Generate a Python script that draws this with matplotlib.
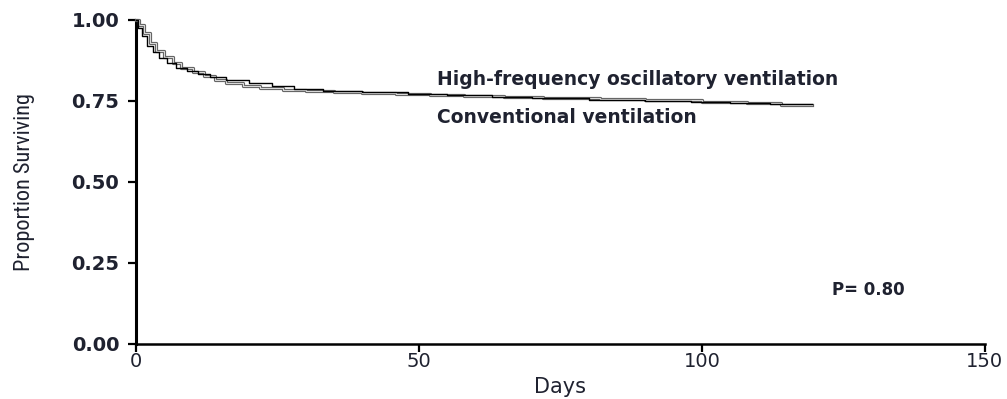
import matplotlib
matplotlib.use("Agg")
import matplotlib.pyplot as plt
import matplotlib.patheffects as pe
from matplotlib import font_manager

# Kaplan-Meier step data
hfov_days = [0, 0.5, 1.5, 2.5, 3.5, 5, 6.5, 8, 10, 12, 14, 16, 19, 22, 26, 30,
             35, 40, 46, 52, 58, 65, 72, 82, 90, 100, 108, 114, 119.5]
hfov_surv = [1.0, 0.985, 0.96, 0.93, 0.905, 0.885, 0.868, 0.852, 0.838, 0.826,
             0.815, 0.806, 0.797, 0.790, 0.785, 0.781, 0.777, 0.774, 0.771,
             0.768, 0.765, 0.762, 0.758, 0.755, 0.752, 0.748, 0.744, 0.738, 0.738]

conv_days = [0, 0.3, 1, 2, 3, 4, 5.5, 7, 9, 11, 13, 16, 20, 24, 28, 33, 40, 48,
             55, 63, 70, 80, 90, 98, 105, 112, 119.5]
conv_surv = [1.0, 0.975, 0.95, 0.92, 0.9, 0.882, 0.866, 0.853, 0.842, 0.832,
             0.824, 0.815, 0.805, 0.795, 0.787, 0.782, 0.777, 0.772, 0.767,
             0.762, 0.758, 0.754, 0.751, 0.747, 0.743, 0.741, 0.741]

x_ticks = [0, 50, 100, 150]
y_ticks = [0.0, 0.25, 0.5, 0.75, 1.0]
y_tick_labels = ["0.00", "0.25", "0.50", "0.75", "1.00"]

txt = "#1f2230"

# narrow font for the y label, if one is around
names = {f.name for f in font_manager.fontManager.ttflist}
narrow = None
for cand in ["Liberation Sans Narrow", "DejaVu Sans Condensed", "Roboto Condensed"]:
    if cand in names:
        narrow = cand
        break

fig = plt.figure(figsize=(10.07, 3.99), dpi=100)
ax = fig.add_axes([0.135, 0.138, 0.843, 0.812])

# hollow grey line for HFOV
ax.step(hfov_days, hfov_surv, where="post", color="#d8d8d8", lw=0.8,
        path_effects=[pe.Stroke(linewidth=2.3, foreground="#606060"), pe.Normal()],
        clip_on=False, zorder=3)
# thin black line for conventional
ax.step(conv_days, conv_surv, where="post", color="black", lw=1.0,
        clip_on=False, zorder=4)

ax.set_xlim(0, 150)
ax.set_ylim(0, 1)
ax.set_xticks(x_ticks)
ax.set_yticks(y_ticks)
ax.set_yticklabels(y_tick_labels)

for s in ["top", "right"]:
    ax.spines[s].set_visible(False)
ax.spines["left"].set_linewidth(2.2)
ax.spines["bottom"].set_linewidth(1.8)
ax.tick_params(axis="both", direction="out", length=6, width=1.6, colors="black")
ax.tick_params(axis="x", labelsize=14, labelcolor=txt, pad=0)
ax.tick_params(axis="y", labelsize=14, labelcolor=txt, pad=6)
for lab in ax.get_yticklabels():
    lab.set_fontweight("bold")

ax.set_xlabel("Days", fontsize=15, color=txt, labelpad=4)
if narrow:
    ax.set_ylabel("Proportion Surviving", fontsize=16, color=txt, labelpad=26,
                  family=[narrow, "DejaVu Sans"])
else:
    ax.set_ylabel("Proportion Surviving", fontsize=13, color=txt, labelpad=26)

ax.text(53.2, 0.815, "High-frequency oscillatory ventilation", fontsize=13.5,
        color=txt, va="center", ha="left", fontweight="bold")
ax.text(53.2, 0.698, "Conventional ventilation", fontsize=13.5,
        color=txt, va="center", ha="left", fontweight="bold")
ax.text(123, 0.167, "P= 0.80", fontsize=12, color=txt, va="center", ha="left",
        fontweight="bold")

fig.savefig("out.png", dpi=100)
